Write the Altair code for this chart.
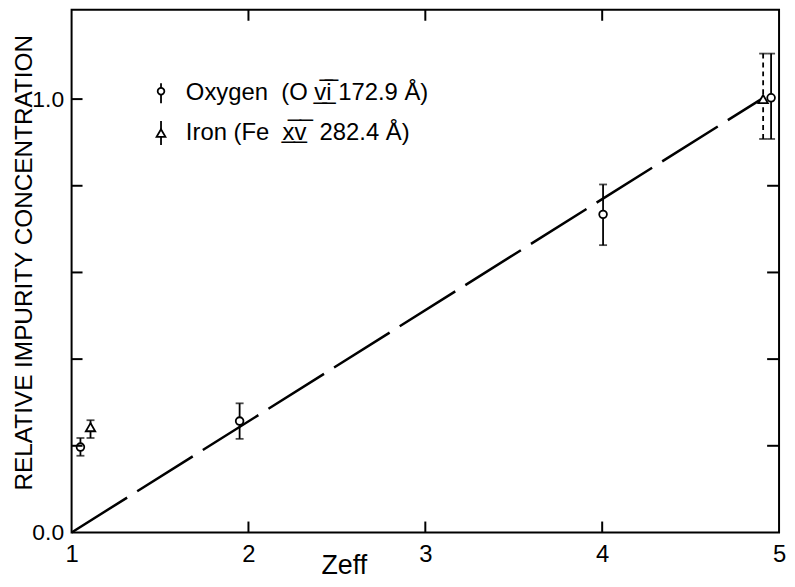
import altair as alt
import pandas as pd

# ---- data ----
ox_x = [1.05, 1.95, 4.005, 4.955]
ox_y = [0.197, 0.257, 0.734, 1.003]
ox_lo = [0.177, 0.216, 0.663, 0.908]
ox_hi = [0.218, 0.298, 0.803, 1.105]

fe_x = [1.107, 4.91]
fe_y = [0.243, 1.0]
fe_lo = [0.218, 0.908]
fe_hi = [0.259, 1.105]

fit_x = [1.0, 4.9]
fit_y = [0.0, 1.0]

x_tick_labels = [1, 2, 3, 4, 5]
x_inner_ticks = [2, 3, 4]
y_tick_labels = [0.0, 1.0]
y_left_ticks = [0.2, 0.4, 0.6, 0.8, 1.0]
y_right_ticks = [0.2, 0.4, 0.6, 0.8]

legend_labels = ["Oxygen\u00a0 (O v\u0332\u0305i\u0332\u0305 172.9 Å)",
                 "Iron (Fe\u00a0 x\u0332\u0305v\u0332\u0305\u00a0 282.4 Å)"]

W, H = 712, 526
FONT = "Liberation Sans"
xs = alt.Scale(domain=[1, 5], nice=False, zero=False)
ys = alt.Scale(domain=[0, 1.206], nice=False, zero=True)

ox = pd.DataFrame({"x": ox_x, "y": ox_y, "lo": ox_lo, "hi": ox_hi})
fe = pd.DataFrame({"x": fe_x, "y": fe_y, "lo": fe_lo, "hi": fe_hi})
fit = pd.DataFrame({"x": fit_x, "y": fit_y})
one = pd.DataFrame({"k": [0]})

x_axis = alt.Axis(values=x_tick_labels, format="d", ticks=False, domain=False, grid=False,
                  labelFontSize=24, labelFont=FONT, labelColor="black", labelPadding=10,
                  labelFlush=False, title="Zeff", titleFont=FONT, titleFontSize=27,
                  titleFontWeight="normal", titleColor="black", titleX=274, titleY=41,
                  titleAlign="center", titleBaseline="alphabetic")
y_axis = alt.Axis(values=y_tick_labels, format=".1f", ticks=False, domain=False, grid=False,
                  labelFontSize=23, labelFont=FONT, labelColor="black", labelPadding=8,
                  labelFlush=False, title="RELATIVE IMPURITY CONCENTRATION", titleFont=FONT,
                  titleFontSize=24.5, titleFontWeight="normal", titleColor="black",
                  titleAngle=270, titleX=-40, titleY=254, titleAlign="center",
                  titleBaseline="alphabetic")

X = lambda f: alt.X(f, type="quantitative", scale=xs, axis=x_axis)
Y = lambda f: alt.Y(f, type="quantitative", scale=ys, axis=y_axis)

line = alt.Chart(fit).mark_line(color="black", strokeWidth=2.5, strokeDash=[66, 12]).encode(
    x=X("x"), y=Y("y"))

def errbars(df, dash=None):
    kw = {"color": "black", "strokeWidth": 1.8}
    if dash:
        kw["strokeDash"] = dash
    r = alt.Chart(df).mark_rule(**kw).encode(x=X("x"), y=Y("lo"), y2="hi")
    c1 = alt.Chart(df).mark_tick(orient="horizontal", size=8, thickness=1.8, color="black").encode(x=X("x"), y=Y("lo"))
    c2 = alt.Chart(df).mark_tick(orient="horizontal", size=8, thickness=1.8, color="black").encode(x=X("x"), y=Y("hi"))
    return [r, c1, c2]

layers = [line]
layers += errbars(ox)
layers += errbars(fe.iloc[[0]])
layers += errbars(fe.iloc[[1]], dash=[5, 4])

circ = alt.Chart(ox).mark_point(shape="circle", filled=True, fill="white", stroke="black",
                                strokeWidth=1.8, size=60, opacity=1).encode(x=X("x"), y=Y("y"))
tri = alt.Chart(fe).mark_point(shape="triangle-up", filled=True, fill="white", stroke="black",
                               strokeWidth=1.8, size=90, opacity=1).encode(x=X("x"), y=Y("y"))
layers += [circ, tri]

# inward ticks
tick_kw = {"color": "black", "strokeWidth": 2}
bt = alt.Chart(pd.DataFrame({"x": x_inner_ticks})).mark_rule(**tick_kw).encode(
    x=X("x"), y=alt.value(H), y2=alt.value(H - 11))
tt = alt.Chart(pd.DataFrame({"x": x_inner_ticks})).mark_rule(**tick_kw).encode(
    x=X("x"), y=alt.value(0), y2=alt.value(11))
lt = alt.Chart(pd.DataFrame({"y": y_left_ticks})).mark_rule(**tick_kw).encode(
    y=Y("y"), x=alt.value(0), x2=alt.value(11))
rt = alt.Chart(pd.DataFrame({"y": y_right_ticks})).mark_rule(**tick_kw).encode(
    y=Y("y"), x=alt.value(W), x2=alt.value(W - 12))
layers += [bt, tt, lt, rt]

# legend
LX, LY1, LY2 = 90, 84, 124
leg = []
leg.append(alt.Chart(one).mark_rule(color="black", strokeWidth=1.8).encode(
    x=alt.value(LX), y=alt.value(LY1 - 10), y2=alt.value(LY1 + 10)))
leg.append(alt.Chart(one).mark_point(shape="circle", filled=True, fill="white", stroke="black",
                                     strokeWidth=1.8, size=45, opacity=1).encode(
    x=alt.value(LX), y=alt.value(LY1 - 2)))
leg.append(alt.Chart(one).mark_rule(color="black", strokeWidth=1.8).encode(
    x=alt.value(LX), y=alt.value(LY2 - 12), y2=alt.value(LY2 + 12)))
leg.append(alt.Chart(one).mark_point(shape="triangle-up", filled=True, fill="white", stroke="black",
                                     strokeWidth=1.8, size=80, opacity=1).encode(
    x=alt.value(LX), y=alt.value(LY2)))
for lab, yy in zip(legend_labels, [LY1, LY2]):
    leg.append(alt.Chart(one).mark_text(text=lab, font=FONT, fontSize=24, align="left",
                                        baseline="middle", color="black").encode(
        x=alt.value(LX + 25), y=alt.value(yy)))
layers += leg

chart = alt.layer(*layers).properties(
    width=W, height=H, autosize="none",
    padding={"left": 64, "top": 0, "right": 8, "bottom": 45},
).configure_view(stroke="black", strokeWidth=2)

chart.save("out.html", embed_options={"renderer": "svg", "actions": False})
